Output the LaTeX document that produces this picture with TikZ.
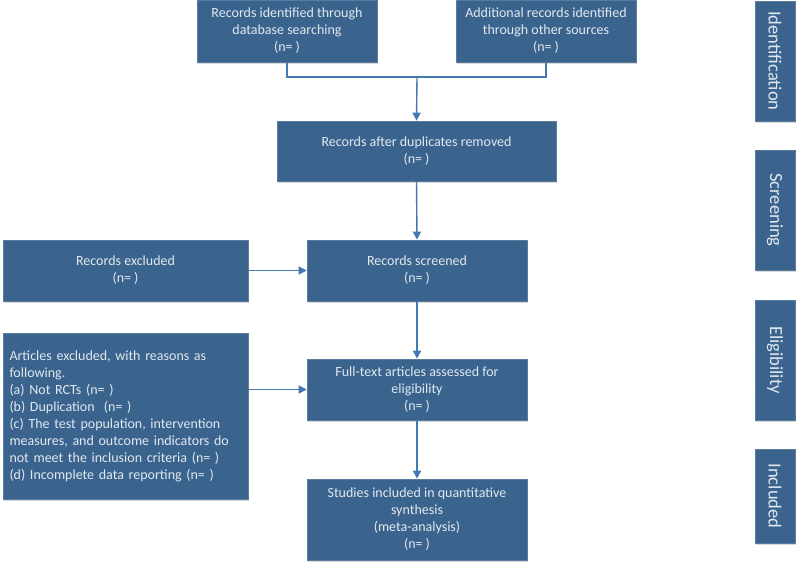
\documentclass[tikz,border=0pt]{standalone}
\usepackage{fontspec}
\setmainfont{Carlito}
\usetikzlibrary{arrows.meta,shadows}
\definecolor{boxfill}{RGB}{58,100,141}
\definecolor{boxtext}{RGB}{225,232,240}
\definecolor{arrowc}{RGB}{68,120,176}
\begin{document}
\begin{tikzpicture}[x=1pt,y=-1pt,
  flowbox/.style={draw=boxfill!85!white,line width=0.6pt,fill=boxfill,text=boxtext,inner sep=2pt,align=center,
    font=\fontsize{14}{17}\selectfont,
    drop shadow={shadow xshift=0.6pt,shadow yshift=-1.6pt,opacity=0.25,fill=black!60}},
  sidebox/.style={flowbox,minimum width=40pt,font=\fontsize{18.5}{20}\selectfont},
  arr/.style={draw=arrowc,line width=1.4pt,-{Triangle[length=8pt,width=8pt]}},
  ln/.style={draw=arrowc,line width=1.4pt}]
\useasboundingbox (0,0) rectangle (800,576);
\node[flowbox,minimum width=180pt,minimum height=62pt] (A) at (287,31) {Records identified through\\database searching\\(n= )};
\node[flowbox,minimum width=180pt,minimum height=62pt] (B) at (546,31) {Additional records identified\\through other sources\\(n= )};
\node[flowbox,minimum width=279pt,minimum height=60pt] (C) at (416.5,151) {Records after duplicates removed\\(n= )};
\node[flowbox,minimum width=220pt,minimum height=61pt] (D) at (417,270.5) {Records screened\\(n= )};
\node[flowbox,minimum width=245pt,minimum height=61pt] (E) at (125.5,270.5) {Records excluded\\(n= )};
\node[flowbox,minimum width=245pt,minimum height=166pt,align=left,text width=232pt] (F) at (125.5,416) {Articles excluded, with reasons as\\following.\\(a) Not RCTs (n= )\\(b) Duplication~~(n= )\\(c) The test population, intervention\\measures, and outcome indicators do\\not meet the inclusion criteria (n= )\\(d) Incomplete data reporting (n= )};
\node[flowbox,minimum width=220pt,minimum height=61pt] (G) at (417,389.5) {Full-text articles assessed for\\eligibility\\(n= )};
\node[flowbox,minimum width=220pt,minimum height=81pt] (H) at (417,519.5) {Studies included in quantitative\\synthesis\\(meta-analysis)\\(n= )};
\node[sidebox,minimum height=120pt] (S1) at (775,61) {\rotatebox{-90}{Identification}};
\node[sidebox,minimum height=120pt] (S2) at (775,210) {\rotatebox{-90}{Screening}};
\node[sidebox,minimum height=120pt] (S3) at (775,360) {\rotatebox{-90}{Eligibility}};
\node[sidebox,minimum height=94pt] (S4) at (775,496) {\rotatebox{-90}{Included}};
\coordinate (j) at (417,77);
\draw[ln] (A.south) |- (j) -| (B.south);
\draw[arr] (j) -- (C.north);
\draw[arr] (C.south) -- (D.north);
\draw[arr] (D.south) -- (G.north);
\draw[arr] (G.south) -- (H.north);
\draw[arr] (E.east) -- (D.west);
\draw[arr] (F.east |- G.west) -- (G.west);
\end{tikzpicture}
\end{document}
